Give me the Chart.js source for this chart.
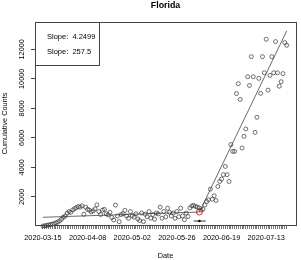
<!DOCTYPE html>
<html>
<head>
<meta charset="utf-8">
<script src="https://cdn.jsdelivr.net/npm/chart.js@4.4.0/dist/chart.umd.min.js"></script>
<style>
  html, body { margin: 0; padding: 0; background: #fff; }
</style>
</head>
<body>
<canvas id="chart" width="301" height="260"></canvas>
<script>
// one value per day, starting 2020-03-15 (index = day number)
const counts = [
    20, 40, 60, 90, 120, 150, 190, 240, 290, 380,
    480, 620, 700, 890, 1000, 950, 1115, 1200, 1270, 1340, 1300,
    1390, 820, 1300, 1150, 1100, 980, 1050, 1180, 1455, 1000, 800, 1100,
    1150, 850, 780, 950, 600, 430, 1440, 700, 320, 800, 850, 1080, 700,
    550, 1000, 720, 620, 850, 500, 390, 900, 320, 820, 650, 1000, 560, 800, 480,
    900, 840, 1300, 550, 1000, 640, 1230, 950, 700,
    900, 550, 1000, 650, 1230, 700, 450, 900, 660, 1250, 1380, 1420, 1350, 1300, 1250, 1100,
    1160, 1455, 1680, 1800, 2520, 1840, 2070, 1750, 2700, 3040, 3200, 3500, 4060, 3500, 3040,
    5540, 5080, 5080, 9000, 9670, 8600, 5310, 6100, 6600, 10140, 9550, 11500, 10140, 6370, 7390,
    10030, 9010, 11500, 10410, 12680, 9230, 10230, 11500, 10410, 12520, 10410, 9500, 9800, 10350,
    12450, 12270
];
const xTickLabels = ['2020-03-15', '2020-04-08', '2020-05-02', '2020-05-26', '2020-06-19', '2020-07-13'];
const xLabelEvery = 24;
const yTicks = [2000, 4000, 6000, 8000, 10000, 12000];

// segmented fit
const intercept = 613;
const slopes = [4.2499, 257.5];   // slope, then change in slope after the break
const breakpoint = 84.1;
const breakpointCI = [81, 87.5];
const ciLevel = 360;

const FONT = 'Liberation Sans, Arial, sans-serif';
Chart.defaults.font.family = FONT;
Chart.defaults.color = '#000';

const lastDay = counts.length - 1;
const yBreak = intercept + slopes[0] * breakpoint;
const yEnd = yBreak + (slopes[0] + slopes[1]) * (lastDay - breakpoint);

// R-style box, rotated y labels, title and legend
const rDecor = {
    id: 'rDecor',
    afterDraw(chart) {
        const ctx = chart.ctx;
        const a = chart.chartArea;
        ctx.save();
        ctx.strokeStyle = '#444';
        ctx.lineWidth = 1;
        ctx.strokeRect(Math.round(a.left) + 0.5, Math.round(a.top) + 0.5,
            Math.round(a.right - a.left), Math.round(a.bottom - a.top));

        ctx.fillStyle = '#000';
        ctx.font = '7.3px ' + FONT;
        ctx.textAlign = 'center';
        ctx.textBaseline = 'middle';
        yTicks.forEach(v => {
            const y = chart.scales.y.getPixelForValue(v);
            ctx.save();
            ctx.translate(22, y);
            ctx.rotate(-Math.PI / 2);
            ctx.fillText(String(v), 0, 0);
            ctx.restore();
        });

        ctx.font = 'bold 8.8px ' + FONT;
        ctx.fillText('Florida', (a.left + a.right) / 2, 5.5);

        // legend
        ctx.strokeRect(Math.round(a.left) + 0.5, Math.round(a.top) + 0.5, 64, 43);
        ctx.font = '7.5px ' + FONT;
        ctx.textAlign = 'left';
        slopes.forEach((s, i) => {
            ctx.fillText('Slope:  ' + s, a.left + 12, a.top + 15.3 + i * 15);
        });
        ctx.restore();
    }
};

new Chart(document.getElementById('chart'), {
    type: 'scatter',
    data: {
        datasets: [
            {
                data: counts.map((v, i) => ({ x: i, y: v })),
                pointRadius: 2,
                pointBorderWidth: 0.7,
                pointBorderColor: '#333',
                pointBackgroundColor: 'rgba(0,0,0,0)',
                clip: false
            },
            {
                data: [{ x: 0, y: intercept }, { x: breakpoint, y: yBreak }, { x: lastDay, y: yEnd }],
                showLine: true,
                borderColor: '#444',
                borderWidth: 0.8,
                pointRadius: 0
            },
            {
                data: [{ x: breakpoint, y: yBreak }],
                pointRadius: 3,
                pointBorderWidth: 1,
                pointBorderColor: '#f22',
                pointBackgroundColor: 'rgba(0,0,0,0)'
            },
            {
                data: [{ x: breakpointCI[0], y: ciLevel }, { x: breakpointCI[1], y: ciLevel }],
                showLine: true,
                borderColor: '#000',
                borderWidth: 0.8,
                pointRadius: 0
            },
            {
                data: [{ x: breakpoint, y: ciLevel }],
                pointRadius: 1.3,
                pointBorderWidth: 0,
                pointBackgroundColor: '#000'
            }
        ]
    },
    options: {
        responsive: false,
        animation: false,
        layout: { padding: { top: 22, right: 3, left: 0, bottom: 0 } },
        plugins: {
            legend: { display: false },
            tooltip: { enabled: false },
            title: { display: false }
        },
        scales: {
            x: {
                type: 'linear',
                min: -4.27,
                max: 136,
                afterBuildTicks: s => { s.ticks = counts.map((_, i) => ({ value: i })); },
                afterFit: s => { s.height = 35; },
                ticks: {
                    autoSkip: false,
                    maxRotation: 0,
                    minRotation: 0,
                    padding: 5,
                    font: { size: 7.3 },
                    color: '#000',
                    callback: v => (v % xLabelEvery === 0 ? xTickLabels[v / xLabelEvery] : '')
                },
                grid: { drawOnChartArea: false, tickLength: 4, color: '#555', lineWidth: 0.8 },
                border: { display: false },
                title: { display: true, text: 'Date', font: { size: 7.3 }, color: '#000', padding: { top: 0, bottom: 0 } }
            },
            y: {
                type: 'linear',
                min: 90,
                max: 13850,
                afterBuildTicks: s => { s.ticks = yTicks.map(v => ({ value: v })); },
                afterFit: s => { s.width = 35; },
                ticks: { display: false },
                grid: { drawOnChartArea: false, tickLength: 4, color: '#444', lineWidth: 1 },
                border: { display: false },
                title: { display: true, text: 'Cumulative Counts', font: { size: 7.3 }, color: '#000', padding: { top: 0.5, bottom: 0 } }
            }
        }
    },
    plugins: [rDecor]
});
</script>
</body>
</html>
